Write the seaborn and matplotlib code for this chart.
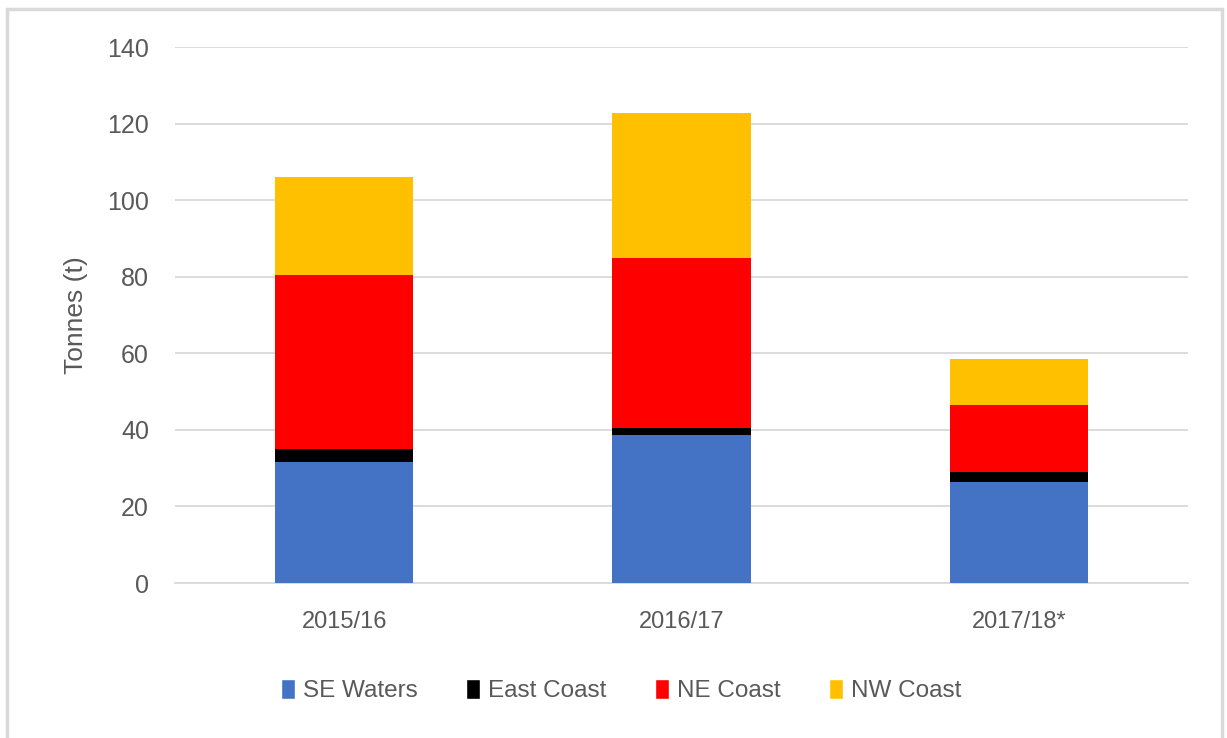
import pandas as pd
import seaborn as sns
import matplotlib.pyplot as plt
from matplotlib.patches import Patch, Rectangle

# Data (tonnes)
years = ["2015/16", "2016/17", "2017/18*"]
se_waters = [31.5, 38.6, 26.4]
east_coast = [3.4, 1.9, 2.6]
ne_coast = [45.6, 44.3, 17.4]
nw_coast = [25.6, 38.1, 12.1]

series = ["SE Waters", "East Coast", "NE Coast", "NW Coast"]
colors = ["#4472C4", "#000000", "#FF0000", "#FFC000"]

df = pd.DataFrame({"year": years, "SE Waters": se_waters, "East Coast": east_coast,
                   "NE Coast": ne_coast, "NW Coast": nw_coast})
cum = df[series].cumsum(axis=1)
cum["year"] = df["year"]

sns.set_style("white")
plt.rcParams["font.family"] = ["Liberation Sans", "DejaVu Sans"]
text_col = "#595959"

fig = plt.figure(figsize=(12.27, 7.38), dpi=100)
ax = fig.add_axes([0.143, 0.21, 0.825, 0.726])

# stacked bars: draw the tallest cumulative layer first
for name, col in reversed(list(zip(series, colors))):
    sns.barplot(data=cum, x="year", y=name, color=col, width=0.41,
                saturation=1, linewidth=0, ax=ax, zorder=3)

ax.set_ylim(0, 140)
ax.set_yticks(range(0, 141, 20))
ax.set_xlim(-0.5, 2.5)
ax.yaxis.grid(True, color="#D9D9D9", linewidth=1.3, zorder=0)
ax.set_axisbelow(True)
for s in ["top", "right", "left"]:
    ax.spines[s].set_visible(False)
ax.spines["bottom"].set_color("#D9D9D9")
ax.spines["bottom"].set_linewidth(1.3)
ax.tick_params(axis="y", length=0, labelsize=18, colors=text_col, pad=19)
ax.tick_params(axis="x", length=0, labelsize=17, colors=text_col, pad=20)
ax.set_xlabel("")
ax.set_ylabel("Tonnes (t)", fontsize=19, color=text_col, labelpad=14)

handles = [Patch(facecolor=c, label=n) for n, c in zip(series, colors)]
fig.legend(handles=handles, loc="center", bbox_to_anchor=(0.506, 0.064), ncol=4,
           frameon=False, fontsize=17.5, labelcolor=text_col, handlelength=0.6,
           handleheight=0.85, handletextpad=0.3, columnspacing=2.0)

fig.patches.append(Rectangle((0.006, -0.01), 0.99, 0.998, transform=fig.transFigure,
                             fill=False, edgecolor="#D9D9D9", linewidth=2.5))

fig.savefig("out.png", dpi=100)
